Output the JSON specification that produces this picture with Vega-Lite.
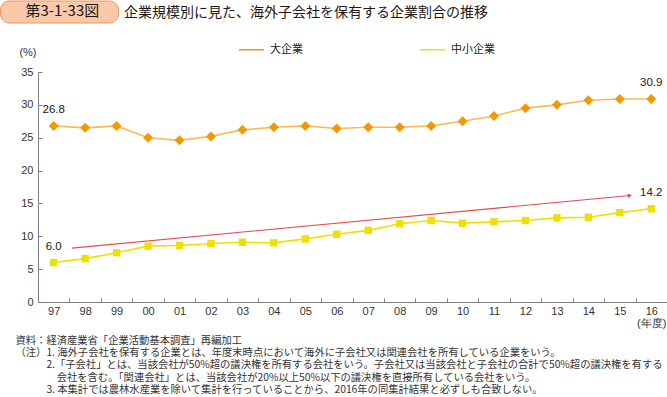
{
  "$schema": "https://vega.github.io/schema/vega-lite/v6.json",
  "width": 629,
  "height": 230,
  "autosize": {"type": "none"},
  "padding": {"left": 38, "top": 72, "right": 0, "bottom": 95},
  "background": "white",
  "config": {"view": {"stroke": null}, "font": "Noto Sans CJK JP"},
  "title": {
    "text": "企業規模別に見た、海外子会社を保有する企業割合の推移",
    "anchor": "start",
    "frame": "group",
    "dx": 86,
    "offset": -34,
    "baseline": "bottom",
    "fontSize": 14,
    "fontWeight": "normal",
    "font": "Noto Sans CJK JP",
    "color": "#231815"
  },
  "datasets": {
    "main": [
      {"year": "97", "series": "大企業", "value": 26.8},
      {"year": "98", "series": "大企業", "value": 26.5},
      {"year": "99", "series": "大企業", "value": 26.8},
      {"year": "00", "series": "大企業", "value": 25.0},
      {"year": "01", "series": "大企業", "value": 24.6},
      {"year": "02", "series": "大企業", "value": 25.2},
      {"year": "03", "series": "大企業", "value": 26.2},
      {"year": "04", "series": "大企業", "value": 26.6},
      {"year": "05", "series": "大企業", "value": 26.8},
      {"year": "06", "series": "大企業", "value": 26.4},
      {"year": "07", "series": "大企業", "value": 26.6},
      {"year": "08", "series": "大企業", "value": 26.6},
      {"year": "09", "series": "大企業", "value": 26.8},
      {"year": "10", "series": "大企業", "value": 27.5},
      {"year": "11", "series": "大企業", "value": 28.3},
      {"year": "12", "series": "大企業", "value": 29.5},
      {"year": "13", "series": "大企業", "value": 30.0},
      {"year": "14", "series": "大企業", "value": 30.7},
      {"year": "15", "series": "大企業", "value": 30.9},
      {"year": "16", "series": "大企業", "value": 30.9},
      {"year": "97", "series": "中小企業", "value": 6.0},
      {"year": "98", "series": "中小企業", "value": 6.6},
      {"year": "99", "series": "中小企業", "value": 7.5},
      {"year": "00", "series": "中小企業", "value": 8.5},
      {"year": "01", "series": "中小企業", "value": 8.6},
      {"year": "02", "series": "中小企業", "value": 8.9},
      {"year": "03", "series": "中小企業", "value": 9.1},
      {"year": "04", "series": "中小企業", "value": 9.0},
      {"year": "05", "series": "中小企業", "value": 9.6},
      {"year": "06", "series": "中小企業", "value": 10.3},
      {"year": "07", "series": "中小企業", "value": 10.9},
      {"year": "08", "series": "中小企業", "value": 11.9},
      {"year": "09", "series": "中小企業", "value": 12.4},
      {"year": "10", "series": "中小企業", "value": 12.0},
      {"year": "11", "series": "中小企業", "value": 12.2},
      {"year": "12", "series": "中小企業", "value": 12.4},
      {"year": "13", "series": "中小企業", "value": 12.8},
      {"year": "14", "series": "中小企業", "value": 12.9},
      {"year": "15", "series": "中小企業", "value": 13.6},
      {"year": "16", "series": "中小企業", "value": 14.2}
    ],
    "trend": [
      {"pos": 1.08, "value": 8.2},
      {"pos": 18.82, "value": 16.2}
    ],
    "fig": [{"fig": "第3-1-33図"}]
  },
  "layer": [
    {
      "encoding": {
        "y": {
          "field": "value",
          "type": "quantitative",
          "scale": {"domain": [0, 35], "nice": false},
          "axis": {
            "values": [0, 5, 10, 15, 20, 25, 30, 35],
            "grid": false,
            "tickSize": -4,
            "tickColor": "#7d7d7d",
            "domainColor": "#7d7d7d",
            "labelFont": "Liberation Sans",
            "labelFontSize": 11,
            "labelColor": "#333333",
            "labelPadding": 9,
            "title": "(%)",
            "titleAngle": 0,
            "titleAlign": "right",
            "titleBaseline": "middle",
            "titleX": -2,
            "titleY": -20,
            "titleFont": "Liberation Sans",
            "titleFontSize": 11,
            "titleFontWeight": "normal",
            "titleColor": "#333333"
          }
        }
      },
      "layer": [
        {
          "data": {"name": "main"},
          "encoding": {
            "x": {
              "field": "year",
              "type": "ordinal",
              "sort": null,
              "scale": {"type": "band", "paddingInner": 0, "paddingOuter": 0},
              "axis": {
                "tickBand": "extent",
                "tickSize": -4,
                "tickColor": "#7d7d7d",
                "domainColor": "#7d7d7d",
                "labelAngle": 0,
                "labelFont": "Liberation Sans",
                "labelFontSize": 11,
                "labelColor": "#333333",
                "labelPadding": 7,
                "labelLineHeight": 12,
                "labelExpr": "datum.value == '16' ? ['16', '(年度)'] : datum.value",
                "title": [
                  "資料：経済産業省「企業活動基本調査」再編加工",
                  "（注）1. 海外子会社を保有する企業とは、年度末時点において海外に子会社又は関連会社を所有している企業をいう。",
                  "\u200b　　　2.「子会社」とは、当該会社が50%超の議決権を所有する会社をいう。子会社又は当該会社と子会社の合計で50%超の議決権を有する",
                  "\u200b　　　　会社を含む。「関連会社」とは、当該会社が20%以上50%以下の議決権を直接所有している会社をいう。",
                  "\u200b　　　3. 本集計では農林水産業を除いて集計を行っていることから、2016年の同集計結果と必ずしも合致しない。"
                ],
                "titleAnchor": "start",
                "titleAlign": "left",
                "titleBaseline": "top",
                "titleX": -23,
                "titleY": 33,
                "titleFont": "Noto Sans CJK JP",
                "titleFontSize": 10.3,
                "titleFontWeight": "normal",
                "titleLineHeight": 12.4,
                "titleColor": "#333333"
              }
            }
          },
          "layer": [
            {
              "mark": {"type": "line", "strokeWidth": 1.6},
              "encoding": {
                "color": {
                  "field": "series",
                  "type": "nominal",
                  "scale": {"domain": ["大企業", "中小企業"], "range": ["#F39800", "#EEE000"]}
                },
                "strokeOpacity": {"condition": {"test": "datum.series == '大企業'", "value": 0.65}, "value": 1}
              }
            },
            {
              "mark": {"type": "point", "filled": true, "opacity": 1},
              "encoding": {
                "color": {
                  "field": "series",
                  "type": "nominal",
                  "scale": {"domain": ["大企業", "中小企業"], "range": ["#F39800", "#EEE000"]},
                  "legend": {
                    "orient": "none",
                    "legendX": 200,
                    "legendY": -36,
                    "direction": "horizontal",
                    "title": null,
                    "padding": 0,
                    "symbolSize": 625,
                    "symbolStrokeWidth": 1.5,
                    "labelOffset": 5,
                    "labelFont": "Noto Sans CJK JP",
                    "labelFontSize": 11,
                    "labelColor": "#231815",
                    "columnPadding": 114,
                    "encode": {
                      "symbols": {
                        "shape": {"value": {"expr": "datum.value == '大企業' ? 'M-1,0H1M-0.42,0L0,-0.42L0.42,0L0,0.42Z' : 'M-1,0H1M-0.3,-0.3H0.3V0.3H-0.3Z'"}},
                        "fill": {"value": {"expr": "datum.value == '大企業' ? '#F39800' : '#EEE000'"}},
                        "stroke": {"value": {"expr": "datum.value == '大企業' ? '#F7B55E' : '#EEE000'"}},
                        "opacity": {"value": 1},
                        "fillOpacity": {"value": 1},
                        "strokeOpacity": {"value": 1},
                        "strokeWidth": {"value": 1.5}
                      }
                    }
                  }
                },
                "shape": {"condition": {"test": "datum.series == '大企業'", "value": "diamond"}, "value": "square"},
                "size": {"condition": {"test": "datum.series == '大企業'", "value": 100}, "value": 55}
              }
            },
            {
              "transform": [{"filter": "datum.year == '97' || datum.year == '16'"}],
              "mark": {"type": "text", "dy": -15.5, "baseline": "middle", "align": "center", "font": "Liberation Sans", "fontSize": 11.5, "color": "#231815"},
              "encoding": {
                "text": {"field": "value", "type": "quantitative", "format": ".1f"}
              }
            }
          ]
        },
        {
          "data": {"name": "trend"},
          "encoding": {
            "x": {"field": "pos", "type": "quantitative", "scale": {"domain": [0, 20], "nice": false, "zero": false}, "axis": null}
          },
          "layer": [
            {"mark": {"type": "line", "color": "#E8484E", "strokeWidth": 1.1}},
            {
              "transform": [{"filter": "datum.pos > 10"}],
              "mark": {"type": "point", "shape": "triangle-right", "filled": true, "size": 22, "angle": -5.3, "color": "#E8484E", "opacity": 1}
            }
          ]
        }
      ],
      "resolve": {"scale": {"x": "independent"}}
    },
    {
      "data": {"name": "fig"},
      "mark": {"type": "point", "opacity": 0},
      "encoding": {
        "strokeDash": {
          "field": "fig",
          "type": "nominal",
          "legend": {
            "orient": "none",
            "legendX": -38,
            "legendY": -71.5,
            "title": null,
            "fillColor": "#FAC9AA",
            "strokeColor": "#EF9461",
            "cornerRadius": 9,
            "padding": 3,
            "symbolType": "circle",
            "symbolSize": 0,
            "symbolOpacity": 0,
            "symbolStrokeWidth": 0,
            "labelOffset": 0,
            "labelFont": "Noto Sans CJK JP",
            "labelFontSize": 15,
            "labelColor": "#231815",
            "labelLimit": 300,
            "labelExpr": "'\u200b\u2002' + datum.label + '　\u200b'"
          }
        }
      }
    }
  ],
  "resolve": {"scale": {"x": "independent"}}
}
